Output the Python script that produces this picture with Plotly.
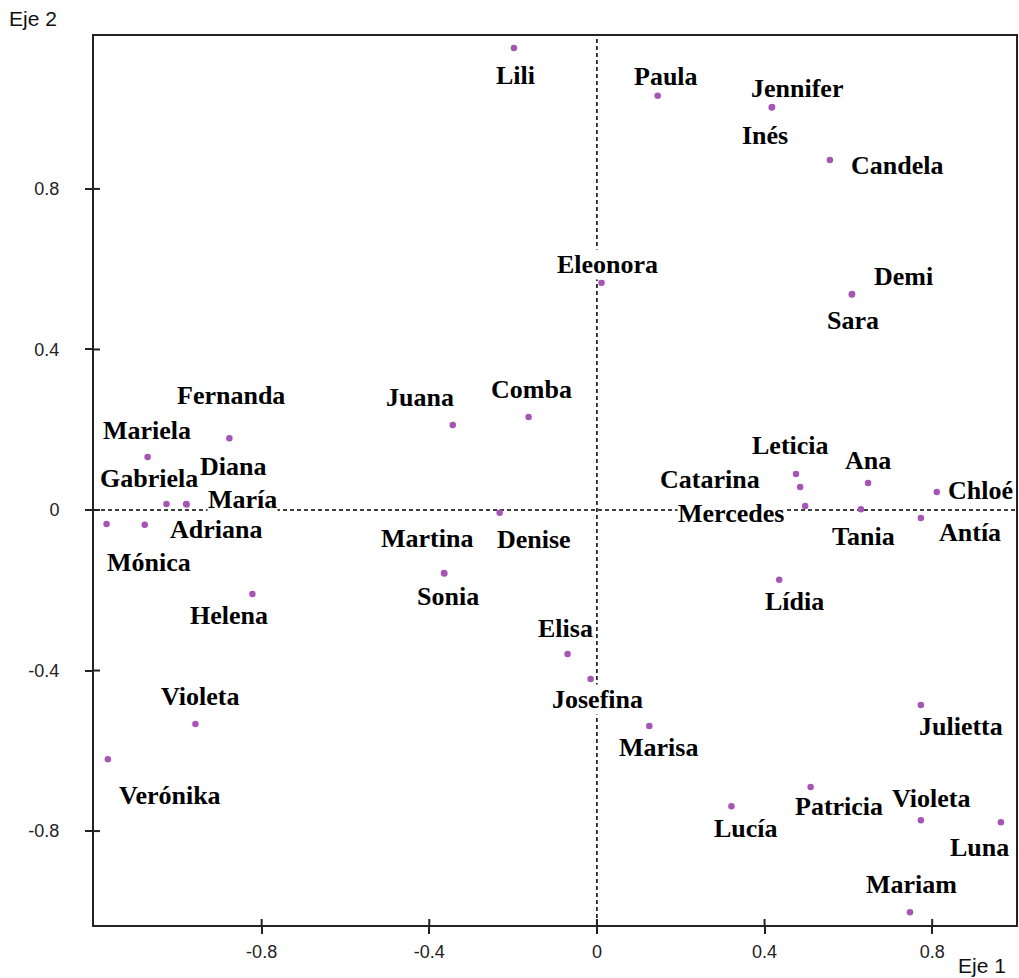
import plotly.graph_objects as go

# ---- data ----
names = ["Lili", "Paula", "Jennifer", "Inés", "Candela", "Eleonora", "Demi", "Sara",
         "Fernanda", "Juana", "Comba", "Mariela", "Gabriela", "Diana", "María",
         "Adriana", "Mónica", "Helena", "Martina", "Sonia", "Denise", "Elisa",
         "Josefina", "Marisa", "Violeta", "Verónika", "Lucía", "Patricia", "Violeta",
         "Luna", "Mariam", "Julietta", "Lídia", "Leticia", "Catarina", "Mercedes",
         "Ana", "Tania", "Chloé", "Antía"]
eje1 = [-0.198, 0.145, 0.418, 0.417, 0.556, 0.011, 0.609, 0.608,
        -0.877, -0.344, -0.163, -1.072, -1.027, -0.980, -0.979,
        -1.079, -1.170, -0.822, -0.365, -0.364, -0.232, -0.070,
        -0.015, 0.125, -0.958, -1.167, 0.321, 0.510, 0.773,
        0.964, 0.747, 0.773, 0.435, 0.475, 0.485, 0.497,
        0.647, 0.630, 0.811, 0.773]
eje2 = [1.151, 1.032, 1.004, 1.003, 0.872, 0.566, 0.538, 0.537,
        0.179, 0.212, 0.232, 0.132, 0.015, 0.015, 0.014,
        -0.037, -0.035, -0.209, -0.157, -0.158, -0.007, -0.359,
        -0.421, -0.538, -0.533, -0.621, -0.738, -0.690, -0.773,
        -0.778, -1.002, -0.486, -0.174, 0.090, 0.057, 0.010,
        0.067, 0.002, 0.045, -0.020]
tick_vals = [-0.8, -0.4, 0.0, 0.4, 0.8]
tick_text = ["-0.8", "-0.4", "0", "0.4", "0.8"]

# ---- label placement offsets (pixels, style only) ----
label_dx = [2, 8, 25, -7, 67, 6, 51, 1,
            2, -33, 3, -1, -18, 47, 56,
            71, 42, -23, -17, 4, 34, -2,
            7, 9, 5, 62, 15, 28, 10,
            -21, 2, 40, 15, -5, -90, -74,
            0, 3, 44, 49]
label_dy = [-27, 19, 19, -28, -5, 18, 18, -26,
            43, 27, 27, 27, 25, 37, 5,
            -5, -38, -22, 35, -23, -27, 26,
            -21, -22, 27, -36, -22, -20, 22,
            -25, 28, -21, -22, 28, 8, -8,
            23, -27, 1, -14]

fig = go.Figure()
fig.add_trace(go.Scatter(
    x=eje1, y=eje2, mode="markers",
    marker=dict(color="#A655B4", size=6.5),
    hoverinfo="text", text=names, showlegend=False,
))

shapes = [
    dict(type="line", xref="x", yref="paper", x0=0, x1=0, y0=0, y1=1,
         line=dict(color="black", width=1.5, dash="4px,3px"), layer="below"),
    dict(type="line", xref="paper", yref="y", x0=0, x1=1, y0=0, y1=0,
         line=dict(color="black", width=1.5, dash="4px,3px"), layer="below"),
]
# inner half of the crossing tick marks
for v in tick_vals:
    shapes.append(dict(type="line", xref="x", yref="paper", x0=v, x1=v,
                       y0=0, y1=6 / 889, line=dict(color="#222", width=2)))
    shapes.append(dict(type="line", xref="paper", yref="y", x0=0, x1=6 / 924,
                       y0=v, y1=v, line=dict(color="#222", width=2)))

annotations = []
for n, x, y, dx, dy in zip(names, eje1, eje2, label_dx, label_dy):
    annotations.append(dict(
        x=x, y=y, xref="x", yref="y", text=n, showarrow=False,
        xshift=dx, yshift=dy, bgcolor="white", borderpad=0,
        font=dict(family="Liberation Serif, Times New Roman, serif",
                  size=26, color="black", weight="bold"),
    ))
annotations.append(dict(text="Eje 2", x=-94 / 924 + 7 / 924, y=1 + 17 / 889,
                        xref="paper", yref="paper", xanchor="left", yanchor="middle",
                        showarrow=False,
                        font=dict(family="Liberation Sans, Arial", size=21, color="#111")))
annotations.append(dict(text="Eje 1", x=1 - 8 / 924, y=-40 / 889,
                        xref="paper", yref="paper", xanchor="right", yanchor="middle",
                        showarrow=False,
                        font=dict(family="Liberation Sans, Arial", size=21, color="#111")))

axis_common = dict(
    showgrid=False, zeroline=False, showline=True, mirror=True,
    linecolor="#222", linewidth=2, ticks="outside", ticklen=7,
    tickwidth=2, tickcolor="#222", tickvals=tick_vals, ticktext=tick_text,
    tickfont=dict(family="Liberation Sans, Arial", size=18, color="#222"),
)

fig.update_layout(
    width=1019, height=978,
    margin=dict(l=94, r=1, t=36, b=53),
    plot_bgcolor="white", paper_bgcolor="white",
    xaxis=dict(range=[-1.2, 1.0], ticklabelstandoff=2, **axis_common),
    yaxis=dict(range=[-1.034, 1.181], ticklabelstandoff=22, **axis_common),
    shapes=shapes, annotations=annotations,
)

fig.write_html("out.html", config={"displayModeBar": False},
               post_script="document.body.style.margin='0';document.body.style.overflow='hidden';")
